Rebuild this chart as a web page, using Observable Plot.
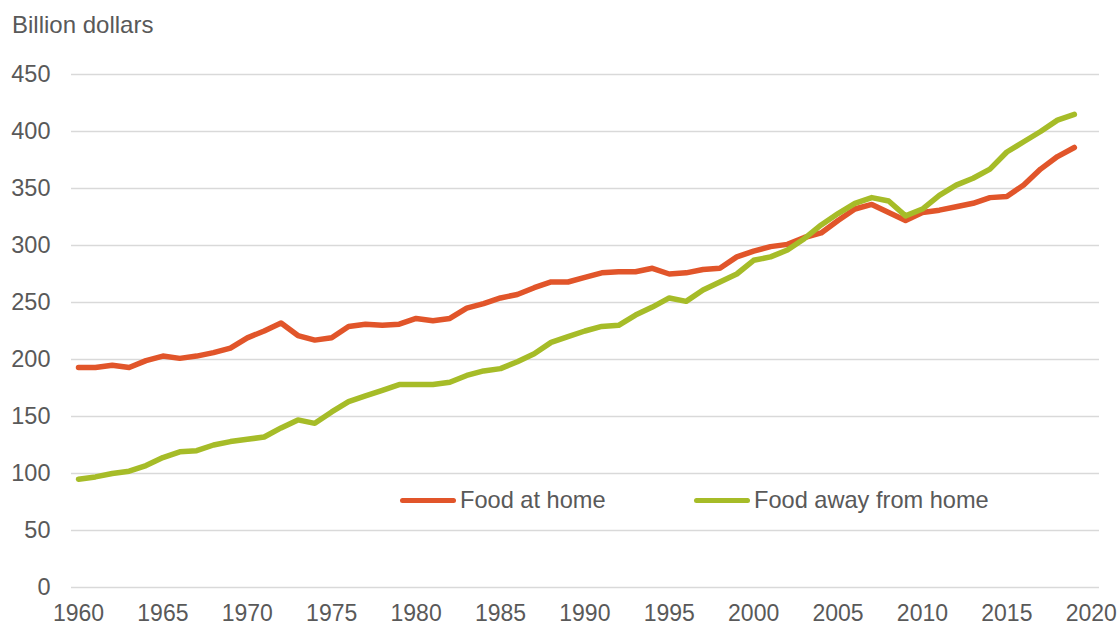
<!DOCTYPE html>
<html>
<head>
<meta charset="utf-8">
<script src="https://cdn.jsdelivr.net/npm/d3@7"></script>
<script src="https://cdn.jsdelivr.net/npm/@observablehq/plot@0.6"></script>
<style>
  html, body { margin: 0; padding: 0; background: #fff; }
  #wrap { position: relative; width: 1119px; height: 626px; font-family: "Liberation Sans", Arial, sans-serif; color: #595959; }
  #title { height: 46px; box-sizing: border-box; padding: 12px 0 0 12px; font-size: 24px; line-height: 26px; }
  .legend { position: absolute; top: 487px; display: flex; align-items: center; font-size: 23.6px; line-height: 26px; }
  .sw { display: inline-block; width: 56px; height: 5px; border-radius: 3px; margin-right: 4px; }
</style>
</head>
<body>
<div id="wrap">
  <div id="title">Billion dollars</div>
  <div id="chart"></div>
  <div id="legend"></div>
</div>
<script>
const years = d3.range(1960, 2020);
const foodAtHome = [193,193,195,193,199,203,201,203,206,210,
  219,225,232,221,217,219,229,231,230,231,
  236,234,236,245,249,254,257,263,268,268,
  272,276,277,277,280,275,276,279,280,290,
  295,299,301,307,311,322,332,336,329,322,
  329,331,334,337,342,343,353,367,378,386];
const foodAwayFromHome = [95,97,100,102,107,114,119,120,125,128,
  130,132,140,147,144,154,163,168,173,178,
  178,178,180,186,190,192,198,205,215,220,
  225,229,230,239,246,254,251,261,268,275,
  287,290,296,306,318,328,337,342,339,326,
  332,344,353,359,367,382,391,400,410,415];
const seriesNames = ["Food at home", "Food away from home"];
const seriesColors = ["#E1552A", "#A6BC28"];
const yTicks = [0, 50, 100, 150, 200, 250, 300, 350, 400, 450];
const xTicks = [1960, 1965, 1970, 1975, 1980, 1985, 1990, 1995, 2000, 2005, 2010, 2015, 2020];

const data = [];
years.forEach((y, i) => {
  data.push({year: y, value: foodAtHome[i], series: seriesNames[0]});
  data.push({year: y, value: foodAwayFromHome[i], series: seriesNames[1]});
});

const chart = Plot.plot({
  width: 1119,
  height: 580,
  marginTop: 28,
  marginBottom: 39,
  marginLeft: 71,
  marginRight: 20,
  style: {fontFamily: "'Liberation Sans', Arial, sans-serif", fontSize: "23px", color: "#595959", background: "#fff", overflow: "visible"},
  x: {domain: [1959.585, 2020.49], ticks: xTicks, tickFormat: d => String(d), tickSize: 0, tickPadding: 17, label: null},
  y: {domain: [0, 450], ticks: yTicks, tickSize: 0, tickPadding: 21, label: null},
  color: {domain: seriesNames, range: seriesColors},
  marks: [
    Plot.ruleY(yTicks, {stroke: "#D9D9D9", strokeWidth: 1.3}),
    Plot.axisX({ticks: xTicks, tickFormat: d => String(d), tickSize: 0, tickPadding: 17, fontSize: 23, fill: "#595959", label: null}),
    Plot.axisY({ticks: yTicks, tickSize: 0, tickPadding: 21, fontSize: 23.5, fill: "#595959", label: null}),
    Plot.lineY(data, {x: "year", y: "value", z: "series", stroke: "series", strokeWidth: 5.5, strokeLinecap: "round", strokeLinejoin: "round"})
  ]
});
document.getElementById("chart").appendChild(chart);

const legendLeft = [400, 694];
const legend = document.getElementById("legend");
seriesNames.forEach((name, i) => {
  const item = document.createElement("div");
  item.className = "legend";
  item.style.left = legendLeft[i] + "px";
  const sw = document.createElement("span");
  sw.className = "sw";
  sw.style.background = seriesColors[i];
  const tx = document.createElement("span");
  tx.textContent = name;
  item.appendChild(sw);
  item.appendChild(tx);
  legend.appendChild(item);
});
</script>
</body>
</html>
